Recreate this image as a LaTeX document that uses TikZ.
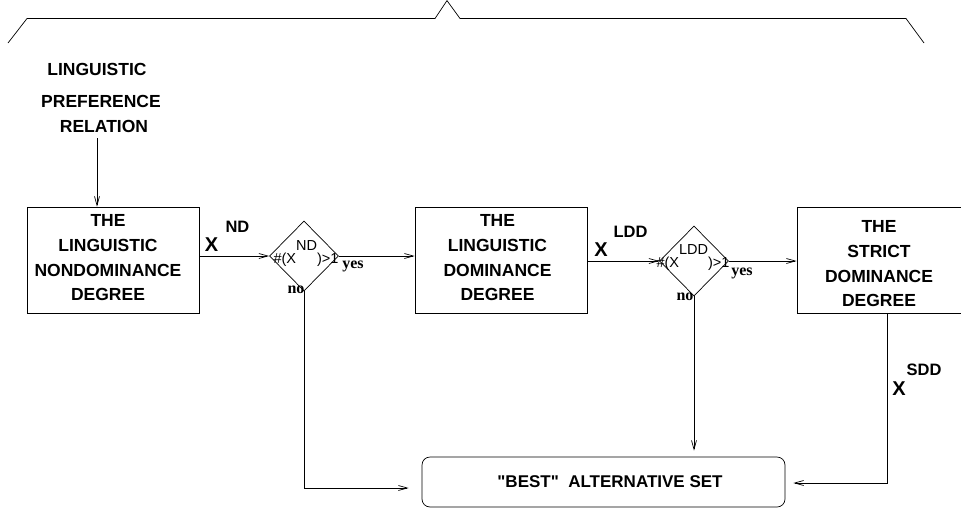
\documentclass[tikz,border=0pt]{standalone}
\usepackage{fontspec}
\setmainfont{Liberation Sans}
\newfontfamily\rawsans{Liberation Sans}
\newfontfamily\serifbf{Liberation Serif}
\usetikzlibrary{arrows.meta,shapes.geometric}
\tikzset{
  arr/.style={-{Straight Barb[length=9pt,width=5pt]}},
  boxnode/.style={draw, minimum width=172pt, minimum height=106pt, inner sep=0pt},
  boxtext/.style={align=center, font=\fontsize{17.5}{24.7}\selectfont\bfseries, inner sep=0pt},
  dia/.style={draw, diamond, minimum width=69pt, minimum height=70pt, inner sep=0pt},
  diatext/.style={font=\fontsize{14.5}{16}\selectfont, inner sep=0pt},
  yn/.style={font=\fontsize{16}{18}\selectfont\serifbf\bfseries, inner sep=0pt},
  biglbl/.style={font=\fontsize{17.5}{20}\selectfont\bfseries, inner sep=0pt},
  xlbl/.style={font=\fontsize{20}{20}\selectfont\bfseries, inner sep=0pt},
  suplbl/.style={font=\fontsize{16.5}{18}\selectfont\bfseries, inner sep=0pt},
}
\begin{document}
\begin{tikzpicture}[x=1pt,y=-1pt,line width=0.7pt]
\useasboundingbox (0,0) rectangle (961,512);
\clip (0,0) rectangle (961,512);

% brace
\draw (8,43) -- (27,18.5) -- (435,18.5) -- (447,0.6) -- (460,18.5) -- (906,18.5) -- (924,43);

% input text
\node[biglbl] (ling) at (97,69) {LINGUISTIC};
\node[biglbl] (pref) at (101,101) {PREFERENCE};
\node[biglbl] (rel) at (104,126) {RELATION};
\coordinate (relout) at (97,138);

% boxes
\node[boxnode] (box1) at (113,260) {};
\node[boxtext] (t1) at (108,258) {THE\\LINGUISTIC\\NONDOMINANCE\\DEGREE};
\node[boxnode] (box2) at (501,260) {};
\node[boxtext] (t2) at (497.5,258) {THE\\LINGUISTIC\\DOMINANCE\\DEGREE};
\node[boxnode] (box3) at (883,260) {};
\node[boxtext] (t3) at (879,264) {THE\\STRICT\\DOMINANCE\\DEGREE};

% diamonds
\node[dia] (d1) at (304,256) {};
\node[diatext] (dt1) at (306,254) {\#(X\raisebox{13pt}{ND})>1};
\node[dia] (d2) at (694,261) {};
\node[diatext] (dt2) at (693,258) {\#(X\raisebox{13pt}{LDD})>1};

\node[yn] (yes1) at (353,266) {yes};
\node[yn] (no1) at (296,290) {no};
\node[yn] (yes2) at (742,273) {yes};
\node[yn] (no2) at (685,297) {no};

% result box
\node[draw, rounded corners=8pt, minimum width=363pt, minimum height=50pt, inner sep=0pt] (best) at (603.5,482) {};
\node[font=\fontsize{17}{20}\selectfont\rawsans\bfseries, inner sep=0pt] (bt) at (610,482) {"BEST"\ \ ALTERNATIVE SET};

% labels
\node[xlbl] (x1) at (211.5,245) {X};
\node[suplbl] (s1) at (237.5,227) {ND};
\node[xlbl] (x2) at (601,250) {X};
\node[suplbl] (s2) at (630.5,232) {LDD};
\node[xlbl] (x3) at (899,389) {X};
\node[suplbl] (s3) at (924,370) {SDD};

% connectors
\draw[arr] (relout) -- (relout |- box1.north);
\draw[arr] (box1.east |- d1.west) -- (d1.west);
\draw[arr] (d1.east) -- (d1.east -| box2.west);
\draw[arr] (box2.east |- d2.west) -- (d2.west);
\draw[arr] (d2.east) -- (d2.east -| box3.west);

\coordinate (in1) at ([xshift=-13pt,yshift=-6pt]best.west);
\draw[arr] (d1.south) |- (in1);
\coordinate (in2) at ([yshift=6pt]d2.south |- best.north);
\draw[arr] (d2.south) -- (in2);
\coordinate (out3) at ([xshift=4pt]box3.south);
\coordinate (in3) at ([xshift=8pt,yshift=-1pt]best.east);
\draw[arr] (out3) |- (in3);
\end{tikzpicture}
\end{document}
